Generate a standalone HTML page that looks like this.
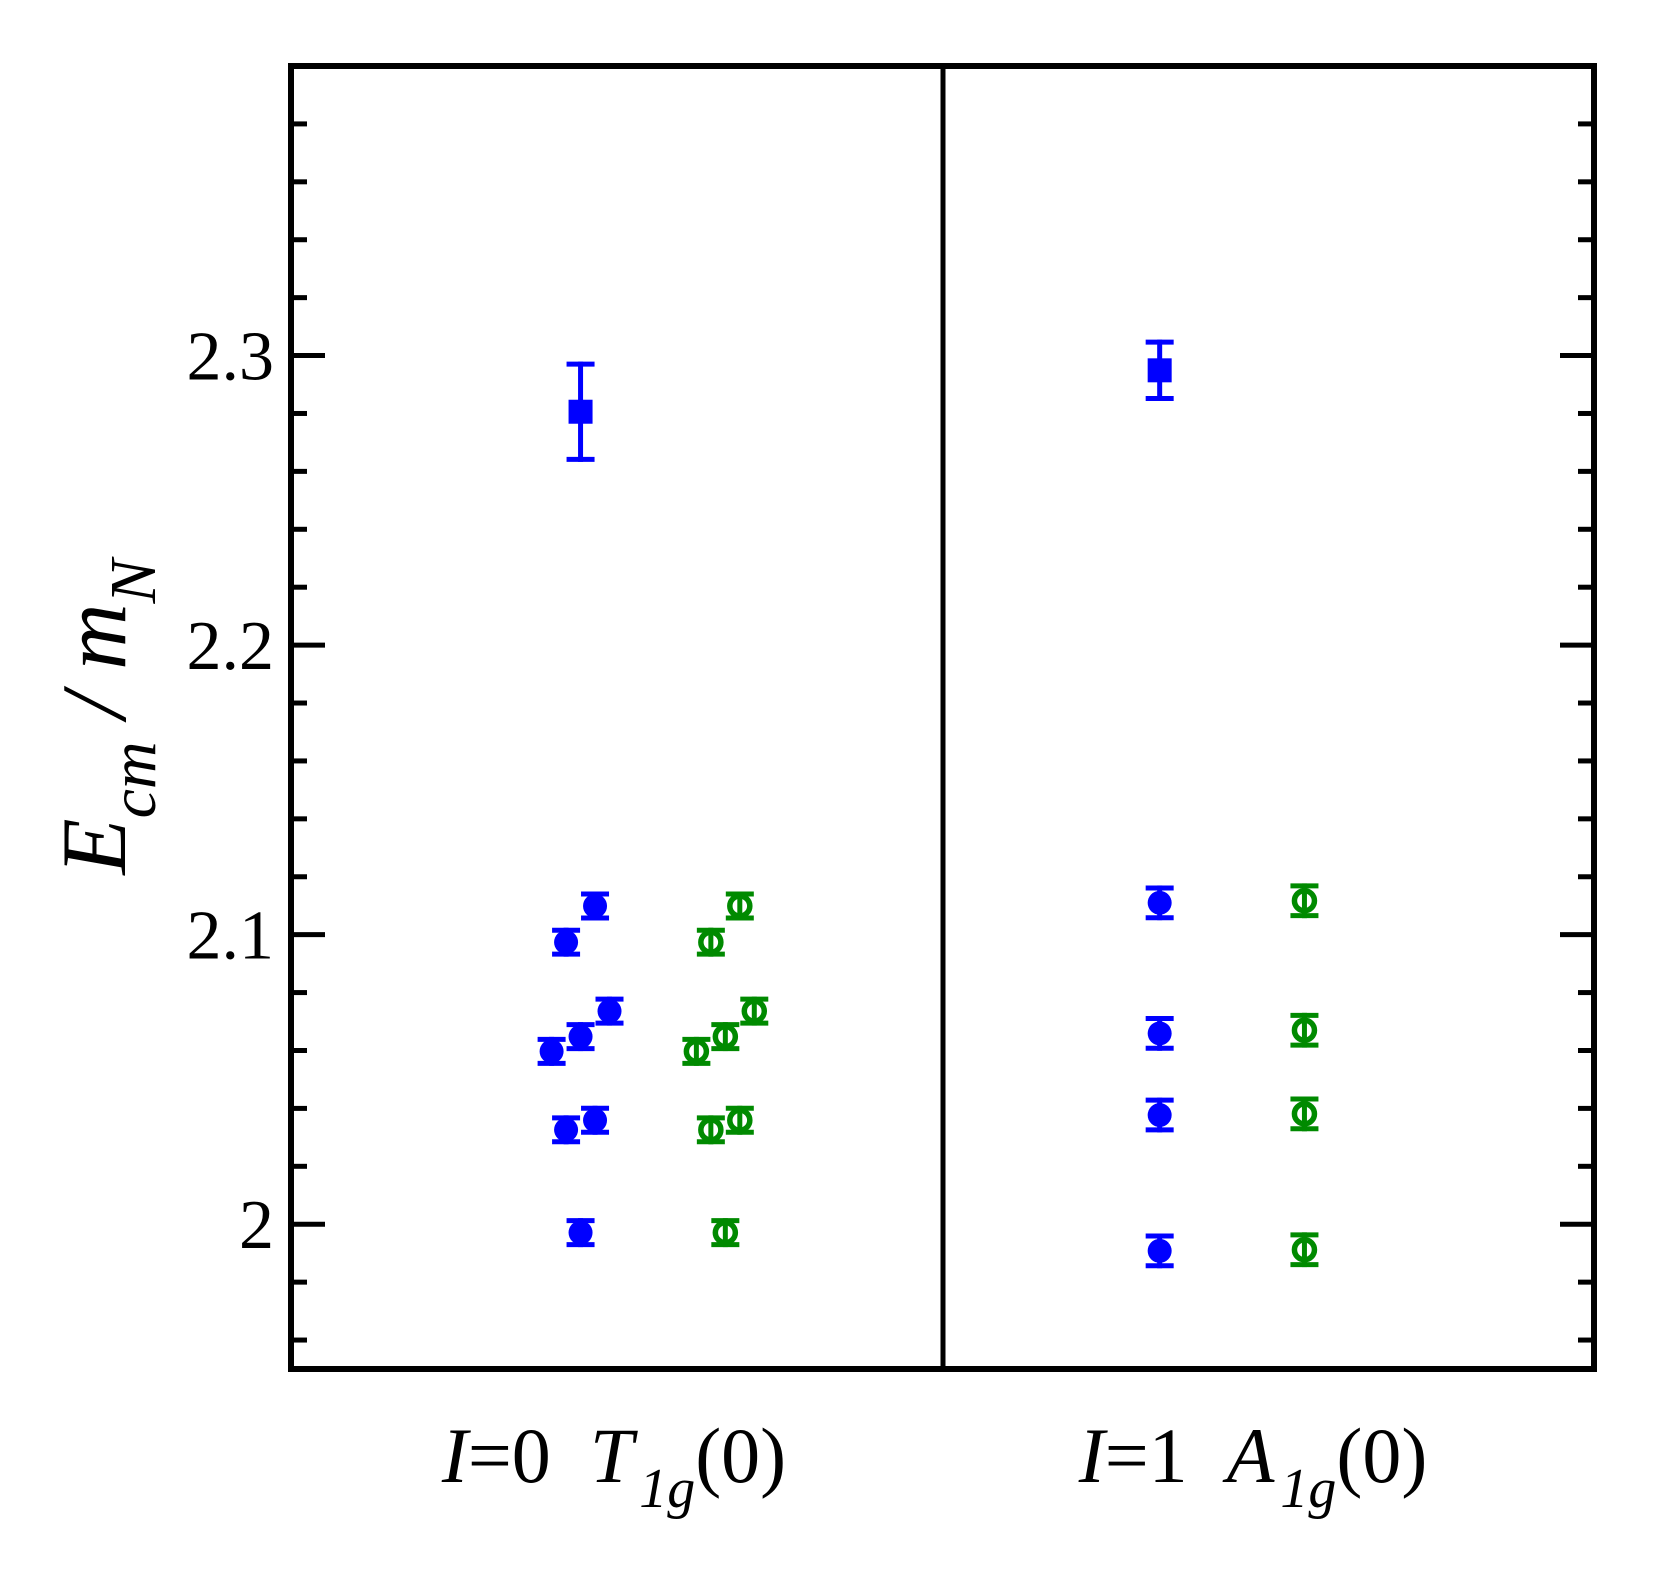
<!DOCTYPE html>
<html><head><meta charset="utf-8"><style>
html,body{margin:0;padding:0;background:#fff}
svg{display:block}
svg text{font-family:"Liberation Serif","Times New Roman",serif}
</style></head><body>
<svg id="chart" width="1661" height="1588" viewBox="0 0 1661 1588" xmlns="http://www.w3.org/2000/svg">
<g id="ticks"></g>
<g id="marks"></g>
<rect x="291" y="66" width="1303" height="1303" fill="none" stroke="#000" stroke-width="6"/>
<line x1="943" y1="66" x2="943" y2="1369" stroke="#000" stroke-width="5"/>
<g id="ylabels"></g>
<text font-family="Liberation Serif, serif" transform="translate(125,717) rotate(-90)" text-anchor="middle" font-size="92" font-style="italic">E<tspan font-size="66" dy="30">cm</tspan><tspan dy="-30">&#160;/ m</tspan><tspan font-size="66" dy="30">N</tspan></text>
<text font-family="Liberation Serif, serif" x="614" y="1482" text-anchor="middle" font-size="78"><tspan font-style="italic">I</tspan>=0&#160;&#160;<tspan font-style="italic">T</tspan><tspan font-style="italic" font-size="56" dx="6" dy="25">1g</tspan><tspan dy="-25">(0)</tspan></text>
<text font-family="Liberation Serif, serif" x="1253" y="1482" text-anchor="middle" font-size="78"><tspan font-style="italic">I</tspan>=1&#160;&#160;<tspan font-style="italic">A</tspan><tspan font-style="italic" font-size="56" dx="6" dy="25">1g</tspan><tspan dy="-25">(0)</tspan></text>
</svg>
<script>
const yTicks = [2.0, 2.1, 2.2, 2.3];
const yTickLabels = ["2", "2.1", "2.2", "2.3"];
const blueX = [18, 19, 19, 20, 20, 21, 21, 22, 60, 60, 60, 60];
const blueY = [2.0597, 2.0974, 2.0326, 2.0648, 1.9971, 2.1099, 2.0359, 2.0736, 2.1110, 2.0659, 2.0377, 1.9908];
const blueErr = [0.005, 0.005, 0.005, 0.005, 0.005, 0.005, 0.005, 0.005, 0.006, 0.006, 0.006, 0.006];
const greenX = [28, 29, 29, 30, 30, 31, 31, 32, 70, 70, 70, 70];
const greenY = [2.0597, 2.0974, 2.0326, 2.0648, 1.9971, 2.1099, 2.0359, 2.0736, 2.1117, 2.0670, 2.0381, 1.9912];
const greenErr = [0.005, 0.005, 0.005, 0.005, 0.005, 0.005, 0.005, 0.005, 0.006, 0.006, 0.006, 0.006];
const squareX = [20, 60];
const squareY = [2.2806, 2.2949];
const squareErr = [0.0173, 0.0106];

const NS = "http://www.w3.org/2000/svg";
const L = 291, R = 1594, T = 66, B = 1369;
const yMin = 1.95, yMax = 2.40, xMin = 0, xMax = 90;
const ys = v => B - (v - yMin) / (yMax - yMin) * (B - T);
const xs = v => L + (v - xMin) / (xMax - xMin) * (R - L);
function mk(tag, attrs, parent) {
  const e = document.createElementNS(NS, tag);
  for (const k in attrs) e.setAttribute(k, attrs[k]);
  parent.appendChild(e);
  return e;
}
const tg = document.getElementById('ticks');
for (let i = 0; i <= 22; i++) {
  const v = 1.96 + i * 0.02;
  if (v > yMax - 0.001) break;
  const major = Math.abs(v * 10 - Math.round(v * 10)) < 1e-6;
  const len = major ? 34 : 16;
  const y = ys(v);
  const a = mk('line', {x1: L, x2: L + len, y1: y, y2: y, stroke: '#000', 'stroke-width': 5}, tg);
  
  
  const b = mk('line', {x1: R - len, x2: R, y1: y, y2: y, stroke: '#000', 'stroke-width': 5}, tg);
  
  
}
const lg = document.getElementById('ylabels');
yTicks.forEach((v, i) => {
  const t = mk('text', {x: 274, y: ys(v) + 24, 'text-anchor': 'end', 'font-size': 70, 'font-family': 'Liberation Serif, serif'}, lg);
  t.textContent = yTickLabels[i];
  
  
});
const mg = document.getElementById('marks');
function errbar(x, y, e, col, g) {
  const cx = xs(x), y1 = ys(y + e), y2 = ys(y - e);
  mk('line', {x1: cx, x2: cx, y1: y1, y2: y2, stroke: col, 'stroke-width': 5}, g);
  mk('line', {x1: cx - 14, x2: cx + 14, y1: y1 + 2.5, y2: y1 + 2.5, stroke: col, 'stroke-width': 5}, g);
  mk('line', {x1: cx - 14, x2: cx + 14, y1: y2 - 2.5, y2: y2 - 2.5, stroke: col, 'stroke-width': 5}, g);
}
blueX.forEach((x, i) => {
  const g = mk('g', {}, mg);
  
  
  errbar(x, blueY[i], blueErr[i], '#0000ff', g);
  mk('circle', {cx: xs(x), cy: ys(blueY[i]), r: 12, fill: '#0000ff'}, g);
});
greenX.forEach((x, i) => {
  const g = mk('g', {}, mg);
  
  
  errbar(x, greenY[i], greenErr[i], '#008a00', g);
  mk('circle', {cx: xs(x), cy: ys(greenY[i]), r: 10, fill: 'none', stroke: '#008a00', 'stroke-width': 5.5}, g);
});
squareX.forEach((x, i) => {
  const g = mk('g', {}, mg);
  
  
  errbar(x, squareY[i], squareErr[i], '#0000ff', g);
  mk('rect', {x: xs(x) - 12, y: ys(squareY[i]) - 12, width: 24, height: 24, fill: '#0000ff'}, g);
});
</script>
</body></html>
